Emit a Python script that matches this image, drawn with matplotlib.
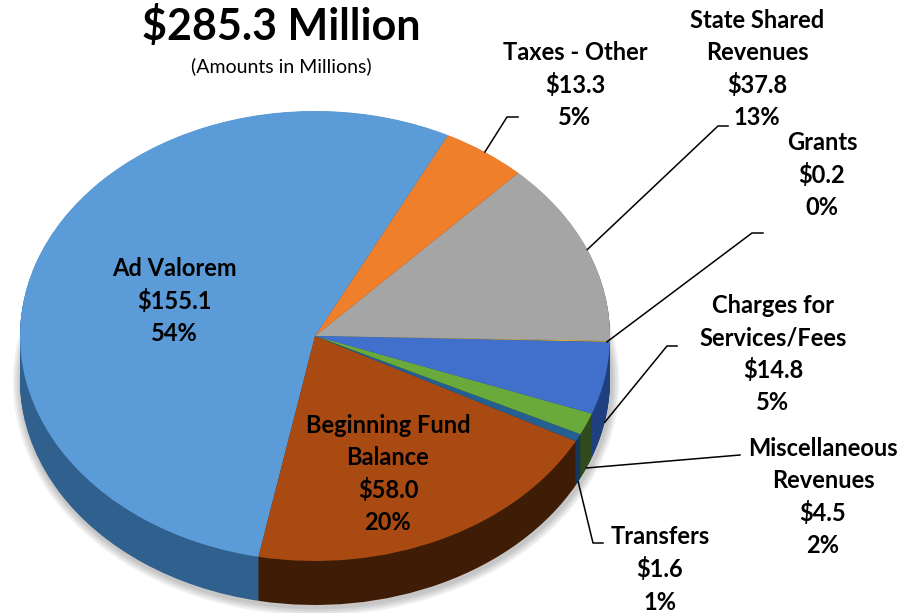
import matplotlib
matplotlib.use('Agg')
import matplotlib.pyplot as plt
import numpy as np
from matplotlib.patches import Ellipse

plt.rcParams['font.family'] = ['Lato', 'DejaVu Sans']

# Data (order = counter-clockwise from the right edge)
categories = ['Grants', 'State Shared\nRevenues', 'Taxes - Other', 'Ad Valorem',
              'Beginning Fund\nBalance', 'Transfers', 'Miscellaneous\nRevenues',
              'Charges for\nServices/Fees']
amounts = [0.2, 37.8, 13.3, 155.1, 58.0, 1.6, 4.5, 14.8]
pct_labels = ['0%', '13%', '5%', '54%', '20%', '1%', '2%', '5%']
top_colors = ['#ffc000', '#a5a5a5', '#f07f2c', '#5b9bd8',
              '#a84a12', '#255e91', '#6aaa3a', '#4170cc']
side_colors = ['#8a6a00', '#5c5c5c', '#8a4514', '#30608e',
               '#3f1c05', '#17375a', '#2e4a1e', '#1f3f7f']

total = sum(amounts)

# pixel -> data helpers (pie centre at 315,336 px; rx 295, ry 225)
CX, CY, RX, RY = 315, 336, 295, 225
W, H = 912, 613
def to(px, py):
    return (px - CX) / RX, (CY - py) / RY

depth = 44 / RY

fig = plt.figure(figsize=(9.12, 6.13), dpi=100)
ax = fig.add_axes([0, 0, 1, 1])

# soft shadow
for i in range(4):
    s = 0.007 * (i + 1)
    ax.add_patch(Ellipse((0.004, -depth - 0.01), 2 * (1 + s), 2 * (1 + s * 1.3),
                         facecolor='#000000', alpha=0.06, lw=0, zorder=0))

# extruded side: stack of darker pies
for k in np.linspace(depth, 0.002, 45):
    ax.pie(amounts, colors=side_colors, startangle=-1.5, counterclock=True,
           center=(0, -k), radius=1, wedgeprops=dict(linewidth=0))

# top face
wedges, _ = ax.pie(amounts, colors=top_colors, startangle=-1.5, counterclock=True,
                   center=(0, 0), radius=1, wedgeprops=dict(linewidth=0))

ax.set_aspect('auto')
ax.set_xlim(-CX / RX, (W - CX) / RX)
ax.set_ylim((CY - H) / RY, CY / RY)
ax.axis('off')

# labels: (centre x px, centre y px of first line)
label_pos = {
    'Grants': (822, 142),
    'State Shared\nRevenues': (757, 20),
    'Taxes - Other': (575, 52),
    'Ad Valorem': (174, 268),
    'Beginning Fund\nBalance': (388, 425),
    'Transfers': (660, 537),
    'Miscellaneous\nRevenues': (823, 448),
    'Charges for\nServices/Fees': (773, 305),
}
line_h = 32.5
for cat, amt, pct in zip(categories, amounts, pct_labels):
    lines = cat.split('\n') + ['$%.1f' % amt, pct]
    px, py = label_pos[cat]
    for i, ln in enumerate(lines):
        x, y = to(px, py + i * line_h)
        ax.text(x, y, ln, ha='center', va='center', fontsize=17,
                fontweight='bold', color='black', zorder=10)

# leader lines: from wedge middle (on slab bottom for front slices) to elbow
leaders = {
    'Grants': [(752, 233), (763, 233)],
    'State Shared\nRevenues': [(718, 126), (728, 126)],
    'Taxes - Other': [(507, 117), (518, 117)],
    'Charges for\nServices/Fees': [(667, 346), (677, 346)],
    'Miscellaneous\nRevenues': [(740, 455)],
    'Transfers': [(593, 543), (603, 543)],
}
for w, cat in zip(wedges, categories):
    if cat not in leaders:
        continue
    mid = np.deg2rad((w.theta1 + w.theta2) / 2)
    x0, y0 = np.cos(mid), np.sin(mid)
    if cat == 'Grants':
        mid = np.deg2rad(w.theta1)
        x0, y0 = np.cos(mid) * 0.99, np.sin(mid)
    if y0 < -0.1:
        y0 -= depth
    pts = [(x0, y0)] + [to(px, py) for px, py in leaders[cat]]
    xs, ys = zip(*pts)
    ax.plot(xs, ys, color='black', lw=1.1, zorder=9)

# title
fig.text(281 / W, 1 - 26 / H, '$285.3 Million', ha='center', va='center',
         fontsize=31, fontweight='bold')
fig.text(281 / W, 1 - 66 / H, '(Amounts in Millions)', ha='center', va='center',
         fontsize=14)

fig.savefig('out.png', dpi=100)
